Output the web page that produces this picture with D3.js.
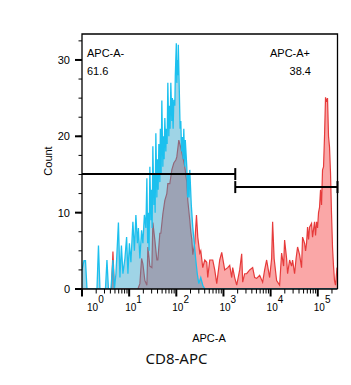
<!DOCTYPE html>
<html>
<head>
<meta charset="utf-8">
<script src="https://cdn.jsdelivr.net/npm/d3@7"></script>
<style>
  body { margin: 0; background: #fff; }
  svg { display: block; }
  text { font-family: "Liberation Sans", Arial, sans-serif; fill: #000; }
</style>
</head>
<body>
<script>
// histogram channels (0..256 across the log axis) and event counts
var blueHist = [[0,2.5],[2,3.7],[3.5,3.7],[5,0],[15,0],[16.5,5.7],[18,0],[23.5,0],[25,3.8],[26.5,0],
  [29,0],[31,3.8],[32.5,0],[34,2],[36.5,8.7],[38,1.5],[39.5,5.7],[41,2],[43,4],[44.7,6.8],[46,2],
  [47.5,6],[49,3.5],[51,8.8],[52.5,5],[54,9.7],[55.5,6],[56.5,8],[58,4],[59.7,7.7],[61,6],[62.5,9.7],
  [64,8],[65,14.5],[65.8,6],[66.5,10],[67.2,5],[68,16],[69,9],[69.5,13],[70.3,8],[71,18.7],[72,11],
  [72.5,15],[73.3,10],[74,20.4],[75,12],[75.5,17],[76.3,13],[77,19],[78,14],[78.5,21],[79.3,15],
  [80,24.7],[81,16],[81.5,20],[82.3,17],[83,22.4],[84,18],[84.5,21],[85.3,19],[86,27],[87,20],
  [87.5,24],[88.3,21],[89,27],[90,22],[90.5,25],[91.3,21],[92,24.8],[93,24],[93.5,28],[94.5,32.2],
  [95,27],[95.5,30],[96,28],[96.5,32],[97.5,26],[98.3,21],[99,22],[99.8,18],[100.5,19.9],[101.3,17],
  [102,21],[103,16],[103.5,19.5],[105,16],[105.8,12],[106.5,15],[107.3,12],[108,15.6],[109.5,11],
  [111,8.1],[112.5,6],[114,3.8],[115.5,2],[117,0.7],[119,1.5],[121,0.5],[123,0],[256,0]];

var redHist = [[0,0],[29.5,0],[31,4.9],[32.5,0],[56,0],[58,0.7],[59.7,4],[61,3.3],[63,1.1],[65,0.5],
  [66,5.5],[68,3],[70,2.8],[71,8.7],[73,6.4],[75,3.8],[76,3.8],[78,7.3],[79,7.3],[81,9.8],[83,11.6],
  [85,12.5],[86,13.8],[88,13.8],[90,15.6],[92,16.5],[94,16.9],[95,17.3],[97,19.5],[99,18.5],
  [101,17.3],[103,16],[105,14],[106,11.6],[108,9],[109,7.5],[110,6.5],[111,4.5],[113,6],[114.7,9.7],
  [116,6.8],[118,4.7],[119,5],[121,2.8],[123,3.8],[125,3.5],[126,1.5],[128,3.8],[131,3.8],[133,2.5],
  [135,0.7],[138,3.8],[140,4.8],[143,2.5],[146,2.8],[148,3.1],[150,1.5],[151,2.8],[153,1.5],[155,0.5],
  [158,2.5],[160,4.6],[161,0.9],[163,2],[165,2],[168,2.5],[171,2.8],[173,1.5],[175,1.4],[178,1.8],
  [181,0.9],[183,2.5],[185,3.8],[188,1.5],[190,4],[191,8.8],[192.5,4],[195,1.1],[198,0.5],[200,4.7],
  [202,3],[203,6.4],[205,4],[206,2],[208,3.8],[210,3],[211,3.8],[213,2],[214.5,4],[216,5.5],[218,4.5],
  [220,2.8],[221,6.8],[223,6],[224,5],[225,6],[226,8.1],[227,6.5],[228,8.1],[230,8.6],[231,6.8],
  [233,8.8],[234,7],[235,8.8],[236,8],[237,10],[238,10.7],[239,13],[240,11],[241,15.6],[242,16],
  [243,20],[244,25.1],[245,24.5],[246,25],[247,20],[248,18.6],[249,15.2],[250,9.9],[251,5.5],
  [252,3],[253,1.1],[254,0.5],[255.5,2.8]];

var yTicks = [0, 10, 20, 30];
var xDecades = [0, 1, 2, 3, 4, 5];
var gates = [
  { name: "APC-A-", pct: "61.6", from: 1, to: 1780, level: 15.05, capLeft: false },
  { name: "APC-A+", pct: "38.4", from: 1780, to: 262144, level: 13.35, capLeft: true }
];

var w = 351, h = 385;
var pLeft = 82, pRight = 337.5, pTop = 34, pBottom = 289;

var svg = d3.select("body").append("svg").attr("width", w).attr("height", h);

var x = d3.scaleLog().domain([1, 262144]).range([pLeft, pRight]);
var xBin = d3.scaleLinear().domain([0, 256]).range([pLeft, pRight]);
var y = d3.scaleLinear().domain([0, 33.4]).range([pBottom, pTop]);

svg.append("clipPath").attr("id", "plot")
  .append("rect").attr("x", pLeft).attr("y", pTop).attr("width", pRight - pLeft).attr("height", pBottom - pTop);

var area = d3.area().x(function(d) { return xBin(d[0]); }).y0(y(0)).y1(function(d) { return y(d[1]); });
var line = d3.line().x(function(d) { return xBin(d[0]); }).y(function(d) { return y(d[1]); });

var g = svg.append("g").attr("clip-path", "url(#plot)");
g.append("path").datum(redHist).attr("d", area).attr("fill", "rgb(246,95,95)").attr("fill-opacity", 0.55);
g.append("path").datum(redHist).attr("d", line).attr("fill", "none").attr("stroke", "#e63b3b").attr("stroke-width", 1.2);
g.append("path").datum(blueHist).attr("d", area).attr("fill", "#2aa0c8").attr("fill-opacity", 0.45);
g.append("path").datum(blueHist).attr("d", line).attr("fill", "none").attr("stroke", "#1cc0ee").attr("stroke-width", 1.3);

// frame
svg.append("path")
  .attr("d", "M" + pLeft + "," + pBottom + "V" + pTop + "H" + pRight + "V" + pBottom)
  .attr("fill", "none").attr("stroke", "#000").attr("stroke-width", 1.3);

// y axis
var yMinor = d3.range(0, 33.4, 2.5);
svg.selectAll(".ymin").data(yMinor).enter().append("line")
  .attr("x1", pLeft - 3.5).attr("x2", pLeft).attr("y1", function(d) { return y(d); }).attr("y2", function(d) { return y(d); })
  .attr("stroke", "#000").attr("stroke-width", 1);
svg.selectAll(".ymaj").data(yTicks).enter().append("line")
  .attr("x1", pLeft - 7).attr("x2", pLeft).attr("y1", function(d) { return y(d); }).attr("y2", function(d) { return y(d); })
  .attr("stroke", "#000").attr("stroke-width", 2);
svg.selectAll(".ylab").data(yTicks).enter().append("text")
  .attr("x", 70).attr("y", function(d) { return y(d); }).attr("dy", "0.35em")
  .attr("text-anchor", "end").style("font-size", "11px").text(function(d) { return d; });

// x axis
svg.append("line").attr("x1", pLeft).attr("x2", pRight).attr("y1", pBottom).attr("y2", pBottom)
  .attr("stroke", "#000").attr("stroke-width", 1.6);
var xMinor = [];
xDecades.forEach(function(d) {
  for (var m = 2; m <= 9; m++) {
    var v = m * Math.pow(10, d);
    if (v <= 262144) xMinor.push(v);
  }
});
svg.selectAll(".xmin").data(xMinor).enter().append("line")
  .attr("x1", function(d) { return x(d); }).attr("x2", function(d) { return x(d); })
  .attr("y1", pBottom).attr("y2", pBottom + 4.5).attr("stroke", "#000").attr("stroke-width", 1);
svg.selectAll(".xmaj").data(xDecades).enter().append("line")
  .attr("x1", function(d) { return x(Math.pow(10, d)); }).attr("x2", function(d) { return x(Math.pow(10, d)); })
  .attr("y1", pBottom).attr("y2", pBottom + 7.5).attr("stroke", "#000").attr("stroke-width", 2);
var xl = svg.selectAll(".xlab").data(xDecades).enter().append("text")
  .attr("x", function(d) { return x(Math.pow(10, d)) - 4 + (d === 0 ? 9 : 0); })
  .attr("y", 311).style("font-size", "10px");
xl.append("tspan").text("10");
xl.append("tspan").attr("dy", -8).text(function(d) { return d; });

svg.append("text").attr("x", 209).attr("y", 342).attr("text-anchor", "middle")
  .style("font-size", "11px").text("APC-A");
svg.append("text").attr("transform", "translate(52,161) rotate(-90)").attr("text-anchor", "middle")
  .style("font-size", "11px").text("Count");

// gates
gates.forEach(function(gt) {
  var gy = y(gt.level);
  var x0 = Math.max(pLeft, x(gt.from)), x1 = Math.min(pRight, x(gt.to));
  svg.append("line").attr("x1", x0).attr("x2", x1).attr("y1", gy).attr("y2", gy)
    .attr("stroke", "#000").attr("stroke-width", 2);
  var caps = gt.capLeft ? [x0, x1] : [x1];
  caps.forEach(function(cx) {
    svg.append("line").attr("x1", cx).attr("x2", cx).attr("y1", gy - 6).attr("y2", gy + 6)
      .attr("stroke", "#000").attr("stroke-width", 2);
  });
});
svg.append("text").attr("x", 87).attr("y", 57).style("font-size", "11px").text(gates[0].name);
svg.append("text").attr("x", 87).attr("y", 75).style("font-size", "11px").text(gates[0].pct);
svg.append("text").attr("x", 310).attr("y", 57).attr("text-anchor", "end").style("font-size", "11px").text(gates[1].name);
svg.append("text").attr("x", 311).attr("y", 75).attr("text-anchor", "end").style("font-size", "11px").text(gates[1].pct);

svg.append("text").attr("x", 176.5).attr("y", 364).attr("text-anchor", "middle")
  .style("font-family", "'Noto Sans', sans-serif").style("font-size", "15px").style("fill", "#111")
  .text("CD8-APC");
</script>
</body>
</html>
